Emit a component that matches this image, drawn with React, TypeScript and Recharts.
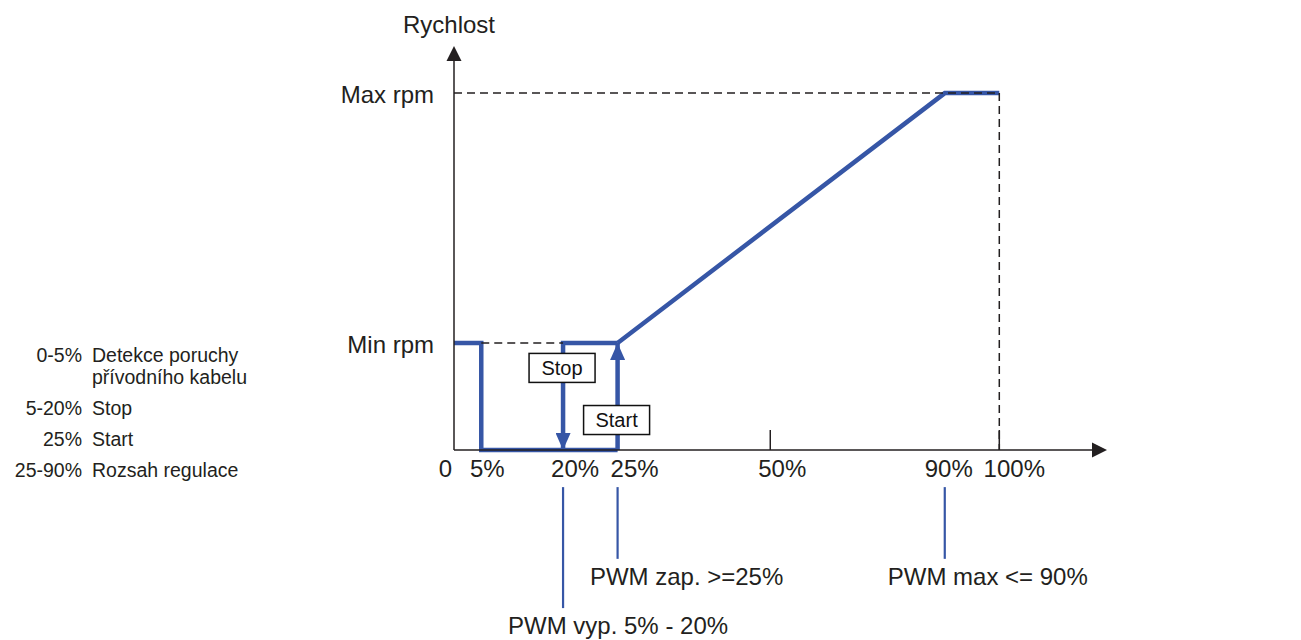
import React from 'react';
import { LineChart, Line, XAxis, YAxis, ReferenceLine, ReferenceDot } from 'recharts';

// PWM signal (%) against fan speed (% of max rpm) - schematic diagram
const xTicks = [0, 5, 20, 25, 50, 90, 100];
const xTickLabels = ['0', '5%', '20%', '25%', '50%', '90%', '100%'];
const yTicks = [30, 100];
const yTickLabels = ['Min rpm', 'Max rpm'];

// speed curve pieces
const faultPwm = [0, 5, 5, 25];
const faultSpeed = [30, 30, 0, 0];
const stopPwm = [25, 20, 20];
const stopSpeed = [30, 30, 0];
const startPwm = [25, 25];
const startSpeed = [0, 30];
const rampPwm = [25, 90, 100];
const rampSpeed = [30, 100, 100];

const phaseLabels = ['Stop', 'Start'];
const phasePwm = [20, 25];

const calloutPwm = [20, 25, 90];
const calloutTexts = ['PWM vyp. 5% - 20%', 'PWM zap. >=25%', 'PWM max <= 90%'];

const legendRanges = ['0-5%', '5-20%', '25%', '25-90%'];
const legendTexts = [['Detekce poruchy', 'přívodního kabelu'], ['Stop'], ['Start'], ['Rozsah regulace']];

const FONT = '"Liberation Sans", Arial, sans-serif';
const INK = '#231f20';
const BLUE = '#3656a6';

// the drawing is not to scale: 25% and 50% sit further right than a linear axis would put them
const KNOTS = [0, 5, 20, 25, 50, 90, 100, 117];
const DRAWN = [0, 5, 20, 30, 58, 90, 100, 117];

function schematicScale(dom: number[] = [0, 117], rng: number[] = [0, 1]): any {
  const scale: any = (v: number) => {
    let i = 1;
    while (i < KNOTS.length - 1 && v > KNOTS[i]) i++;
    const k0 = KNOTS[i - 1];
    const k1 = KNOTS[i];
    const d = DRAWN[i - 1] + ((v - k0) / (k1 - k0)) * (DRAWN[i] - DRAWN[i - 1]);
    return rng[0] + (d / DRAWN[DRAWN.length - 1]) * (rng[1] - rng[0]);
  };
  scale.domain = (d?: number[]) => {
    if (d === undefined) return dom.slice();
    dom = d.slice();
    return scale;
  };
  scale.range = (r?: number[]) => {
    if (r === undefined) return rng.slice();
    rng = r.slice();
    return scale;
  };
  scale.copy = () => schematicScale(dom.slice(), rng.slice());
  scale.ticks = () => xTicks;
  return scale;
}

const toPoints = (xs: number[], ys: number[]) => xs.map((x, i) => ({ x, y: ys[i] }));

// label nudges, as in the original drawing
const tickShift: Record<number, number> = { 0: -2, 5: 6, 20: 12, 25: 17, 50: 12, 90: 4, 100: 15 };
const calloutLayout: Record<number, { end: number; dx: number; gap: number }> = {
  20: { end: -44.3, dx: 55, gap: 26 },
  25: { end: -30.5, dx: 69, gap: 26 },
  90: { end: -30.5, dx: 43, gap: 26 },
};
const boxLevel: Record<number, number> = { 20: 23, 25: 8.4 };

const XTick = (props: any) => {
  const { x, y, payload } = props;
  const v = payload.value;
  const label = xTickLabels[xTicks.indexOf(v)];
  return (
    <text x={x + (tickShift[v] ?? 0)} y={y + 17} textAnchor={v === 0 ? 'end' : 'middle'} fill={INK} fontSize={24}>
      {label}
    </text>
  );
};

const YTick = (props: any) => {
  const { x, y, payload } = props;
  return (
    <text x={x} y={y + 10} textAnchor="end" fill={INK} fontSize={24}>
      {yTickLabels[yTicks.indexOf(payload.value)]}
    </text>
  );
};

const lineBase = {
  type: 'linear' as const,
  dataKey: 'y',
  stroke: BLUE,
  strokeWidth: 4.5,
  dot: false,
  activeDot: false,
  isAnimationActive: false,
};

export default function App() {
  return (
    <div style={{ position: 'absolute', left: 0, top: 0, width: 1301, height: 640, background: '#fff', fontFamily: FONT }}>
      <LineChart width={1301} height={640} margin={{ top: 61, right: 209, bottom: 160, left: 334 }}>
        <defs>
          <marker id="axisHead" markerUnits="userSpaceOnUse" markerWidth={16} markerHeight={16} viewBox="0 0 16 16" refX={0} refY={8} orient="auto-start-reverse">
            <path d="M0,0.5 L15,8 L0,15.5 z" fill={INK} />
          </marker>
          <marker id="blueHead" markerUnits="userSpaceOnUse" markerWidth={17} markerHeight={15} viewBox="0 0 17 15" refX={17} refY={7.5} orient="auto">
            <path d="M0,0 L17,7.5 L0,15 z" fill={BLUE} />
          </marker>
        </defs>
        <XAxis
          type="number"
          dataKey="x"
          domain={[0, 117]}
          scale={schematicScale()}
          ticks={xTicks}
          interval={0}
          tickLine={false}
          tickSize={0}
          tickMargin={10}
          tick={<XTick />}
          height={30}
          axisLine={{ stroke: INK, strokeWidth: 1.5, markerEnd: 'url(#axisHead)' }}
        />
        <YAxis
          type="number"
          domain={[0, 109]}
          ticks={yTicks}
          interval={0}
          tickLine={false}
          tickSize={0}
          tickMargin={20}
          tick={<YTick />}
          width={120}
          axisLine={{ stroke: INK, strokeWidth: 1.5, markerStart: 'url(#axisHead)' }}
        />

        <ReferenceLine segment={[{ x: 50, y: 0 }, { x: 50, y: 5.6 }]} stroke={INK} strokeWidth={1.5} ifOverflow="visible" />
        <ReferenceLine segment={[{ x: 100, y: 0 }, { x: 100, y: 5.6 }]} stroke={INK} strokeWidth={1.5} ifOverflow="visible" />

        <Line {...lineBase} data={toPoints(faultPwm, faultSpeed)} />
        <Line {...lineBase} data={toPoints(rampPwm, rampSpeed)} />
        <Line {...lineBase} data={toPoints(stopPwm, stopSpeed)} markerEnd="url(#blueHead)" />
        <Line {...lineBase} data={toPoints(startPwm, startSpeed)} markerEnd="url(#blueHead)" />

        <ReferenceLine segment={[{ x: 0, y: 100 }, { x: 100, y: 100 }]} stroke={INK} strokeWidth={1.5} strokeDasharray="8 5" ifOverflow="visible" zIndex={1500} />
        <ReferenceLine segment={[{ x: 100, y: 100 }, { x: 100, y: 0 }]} stroke={INK} strokeWidth={1.5} strokeDasharray="8 5" ifOverflow="visible" zIndex={1500} />
        <ReferenceLine segment={[{ x: 5, y: 30 }, { x: 20, y: 30 }]} stroke={INK} strokeWidth={1.5} strokeDasharray="8 5" ifOverflow="visible" zIndex={1500} />

        {phasePwm.map((p, i) => (
          <ReferenceDot
            key={`phase-${p}`}
            x={p}
            y={boxLevel[p]}
            r={0}
            ifOverflow="visible"
            zIndex={1600}
            shape={(s: any) => (
              <g>
                <rect x={s.cx - 34} y={s.cy - 14.5} width={66} height={29} fill="#fff" stroke="#111" strokeWidth={1.5} />
                <text x={s.cx - 1} y={s.cy + 7} textAnchor="middle" fontSize={20} fill="#111">
                  {phaseLabels[i]}
                </text>
              </g>
            )}
          />
        ))}

        {calloutPwm.map((p) => (
          <ReferenceLine
            key={`cl-${p}`}
            segment={[{ x: p, y: -10.4 }, { x: p, y: calloutLayout[p].end }]}
            stroke={BLUE}
            strokeWidth={2.2}
            ifOverflow="visible"
          />
        ))}
        {calloutPwm.map((p, i) => (
          <ReferenceDot
            key={`ct-${p}`}
            x={p}
            y={calloutLayout[p].end}
            r={0}
            ifOverflow="visible"
            shape={(s: any) => (
              <text x={s.cx + calloutLayout[p].dx} y={s.cy + calloutLayout[p].gap} textAnchor="middle" fontSize={24} fill={INK}>
                {calloutTexts[i]}
              </text>
            )}
          />
        ))}

        <ReferenceDot
          x={0}
          y={109}
          r={0}
          ifOverflow="visible"
          shape={(s: any) => (
            <text x={s.cx - 5} y={s.cy - 28} textAnchor="middle" fontSize={24} fill={INK}>
              Rychlost
            </text>
          )}
        />
      </LineChart>

      <div style={{ position: 'absolute', left: 0, top: 344, fontSize: 19.5, lineHeight: '22px', color: INK }}>
        {legendRanges.map((r, i) => (
          <div key={r} style={{ display: 'flex', marginBottom: 9 }}>
            <div style={{ width: 82, textAlign: 'right' }}>{r}</div>
            <div style={{ marginLeft: 10 }}>
              {legendTexts[i].map((t) => (
                <div key={t}>{t}</div>
              ))}
            </div>
          </div>
        ))}
      </div>
    </div>
  );
}
